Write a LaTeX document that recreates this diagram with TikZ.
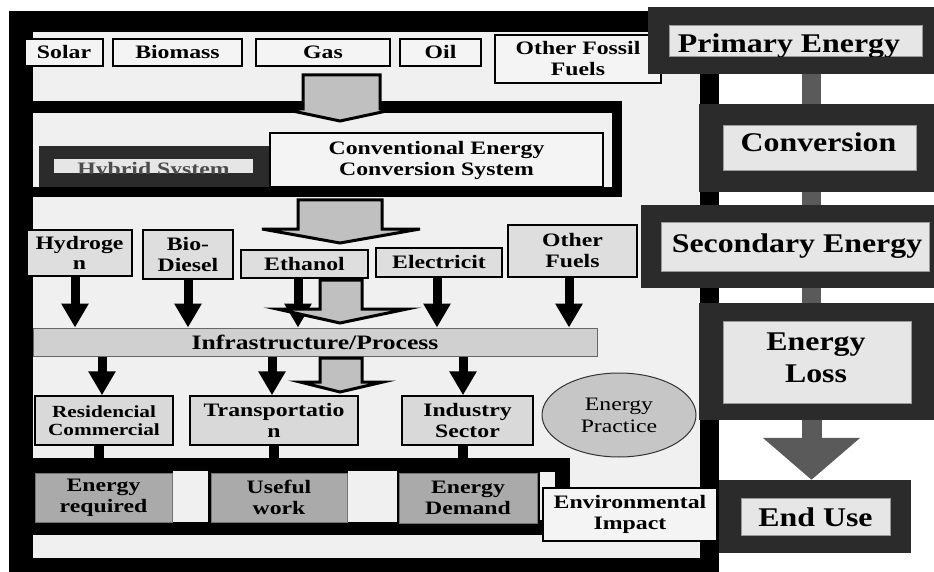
\documentclass[tikz,border=0pt]{standalone}
\usepackage{fontspec}
\setmainfont{Liberation Serif}
\newfontfamily\lfont[FakeStretch=1.25]{Liberation Serif}
\newfontfamily\rfont[FakeStretch=1.18]{Liberation Serif}
\usetikzlibrary{arrows.meta,shapes.geometric,calc}
\definecolor{panel}{RGB}{240,240,240}
\definecolor{darkf}{RGB}{43,43,43}
\definecolor{innerl}{RGB}{230,230,230}
\definecolor{connf}{RGB}{90,90,90}
\definecolor{srcf}{RGB}{244,244,244}
\definecolor{fuelf}{RGB}{222,222,222}
\definecolor{infraf}{RGB}{208,208,208}
\definecolor{sectf}{RGB}{217,217,217}
\definecolor{outf}{RGB}{170,170,170}
\definecolor{ellf}{RGB}{198,198,198}
\definecolor{arrf}{RGB}{192,192,192}
\begin{document}
\begin{tikzpicture}[x=1pt,y=-1pt,
  lbl/.style={font=\lfont\bfseries\fontsize{19}{21}\selectfont, align=center, inner sep=0pt, text=black},
  srcbox/.style={lbl, draw=black, line width=1.5pt, fill=srcf},
  fuelbox/.style={lbl, draw=black, line width=1.5pt, fill=fuelf},
  sectbox/.style={lbl, draw=black, line width=1.5pt, fill=sectf},
  outbox/.style={lbl, draw=black!55, line width=1pt, fill=outf},
  darkbox/.style={fill=darkf, inner sep=0pt},
  innerbox/.style={fill=innerl, draw=black!40, line width=0.6pt, inner sep=0pt},
  bigtxt/.style={font=\rfont\bfseries\fontsize{27}{32}\selectfont, align=center, inner sep=0pt, anchor=base},
  barrow/.style={line width=9pt, black, -{Triangle[length=24pt 0,width=26pt 0]}},
  grayconn/.style={line width=19pt, connf},
  blockarrow/.style={fill=arrf, draw=black, line width=3pt, line join=miter},
  blackconn/.style={line width=10pt, black}
]
\useasboundingbox (0,0) rectangle (934,572);
\clip (0,0) rectangle (934,572);
\fill[white] (0,0) rectangle (934,572);

% left panel frame
\fill[black] (9,11) rectangle (719,572);
\fill[panel] (33,32) rectangle (700,558);
% conversion frame
\fill[black] (33,101) rectangle (622,197);
\fill[panel] (33,113) rectangle (612,187);

% hybrid system
\node[darkbox, minimum width=231pt, minimum height=41pt] (hyb) at (154.5,166.5) {};
\node[fill=innerl, inner sep=0pt, minimum width=199pt, minimum height=14pt] (hybl) at (153.5,166) {};
\begin{scope}
  \clip (hybl.north west) rectangle (hybl.south east);
  \node[font=\lfont\bfseries\fontsize{19}{21}\selectfont, text=black!70, anchor=base, inner sep=0pt] (hybt) at (153.5,175.5) {Hybrid System};
\end{scope}

% conventional box
\node[srcbox, minimum width=333pt, minimum height=54pt, line width=2pt] (conv) at (436.5,160) {Conventional Energy\\Conversion System};

% sources
\node[srcbox, minimum width=78pt, minimum height=27pt] (solar) at (64,52.5) {Solar};
\node[srcbox, minimum width=129pt, minimum height=27pt] (bio) at (177.5,52.5) {Biomass};
\node[srcbox, minimum width=134pt, minimum height=27pt] (gas) at (323,52.5) {Gas};
\node[srcbox, minimum width=81pt, minimum height=27pt] (oil) at (440.5,52.5) {Oil};
\node[srcbox, minimum width=166pt, minimum height=48pt] (ofos) at (578,59) {Other Fossil\\Fuels};

% block arrows
\draw[blockarrow] (303,75) -- (380,75) -- (380,109) -- (396,109) -- (340,121) -- (283,109) -- (303,109) -- cycle;
\draw[blockarrow] (298,200) -- (382,200) -- (382,229) -- (420,229) -- (340,243) -- (262,229) -- (298,229) -- cycle;

% fuels
\node[fuelbox, minimum width=105pt, minimum height=46pt, font=\lfont\bfseries\fontsize{19}{20}\selectfont] (hyd) at (79.5,253) {Hydroge\\n};
\node[fuelbox, minimum width=90pt, minimum height=49pt] (bdie) at (188,254.5) {Bio-\\Diesel};
\node[fuelbox, minimum width=127pt, minimum height=28pt] (eth) at (304.5,264) {Ethanol};
\node[fuelbox, minimum width=126pt, minimum height=29pt] (elec) at (439,262.5) {Electricit};
\node[fuelbox, minimum width=129pt, minimum height=52pt] (ofuel) at (572.5,251) {Other\\Fuels};

% infrastructure
\node[lbl, fill=infraf, draw=black!60, line width=1pt, minimum width=564pt, minimum height=28pt, font=\lfont\bfseries\fontsize{20.5}{22}\selectfont] (infra) at (315,342) {Infrastructure/Process};

\draw[barrow] ([xshift=-4.5pt]hyd.south) -- ([xshift=-4.5pt]hyd.south |- infra.north);
\draw[barrow] (bdie.south) -- (bdie.south |- infra.north);
\draw[barrow] ([xshift=-6.5pt]eth.south) -- ([xshift=-6.5pt]eth.south |- infra.north);
\draw[barrow] ([xshift=-2pt]elec.south) -- ([xshift=-2pt]elec.south |- infra.north);
\draw[barrow] ([xshift=-3.5pt]ofuel.south) -- ([xshift=-3.5pt]ofuel.south |- infra.north);

\draw[blockarrow] (320,280) -- (362,280) -- (362,309) -- (407,309) -- (340,323) -- (277,309) -- (320,309) -- cycle;

% sectors
\node[sectbox, minimum width=138pt, minimum height=49pt, font=\lfont\bfseries\fontsize{17}{18.5}\selectfont] (res) at (104,420.5) {Residencial\\Commercial};
\node[sectbox, minimum width=168pt, minimum height=49pt] (trans) at (274,420.5) {Transportatio\\n};
\node[sectbox, minimum width=131pt, minimum height=49pt] (ind) at (467.5,420.5) {Industry\\Sector};
\node[lbl, ellipse, fill=ellf, draw=black!80, line width=1pt, minimum width=154pt, minimum height=84pt, font=\lfont\fontsize{19}{22}\selectfont] (prac) at (619,415) {Energy\\Practice};

\draw[barrow] ([xshift=-2pt]res.north |- infra.south) -- ([xshift=-2pt]res.north);
\draw[barrow] ([xshift=-2pt]trans.north |- infra.south) -- ([xshift=-2pt]trans.north);
\draw[barrow] ([xshift=-4.5pt]ind.north |- infra.south) -- ([xshift=-4.5pt]ind.north);

\draw[blockarrow] (320,358) -- (362,358) -- (362,382) -- (383,382) -- (340,392) -- (300,382) -- (320,382) -- cycle;

% output band
\node[fill=black, inner sep=0pt, minimum width=537pt, minimum height=77pt] (band) at (301.5,496.5) {};
\draw[blackconn] ([xshift=-5pt]res.south) -- ([xshift=-5pt]res.south |- band.north);
\draw[blackconn] (trans.south) -- (trans.south |- band.north);
\draw[blackconn] ([xshift=-4.5pt]ind.south) -- ([xshift=-4.5pt]ind.south |- band.north);
\fill[panel] (173,471) rectangle (208,522);
\fill[panel] (348,471) rectangle (397,522);
\fill[panel] (540,472) rectangle (555,520);
\node[outbox, minimum width=137pt, minimum height=49pt] (ereq) at (103.5,497.5) {Energy\\required};
\node[outbox, minimum width=136pt, minimum height=49pt] (uwork) at (279,497.5) {Useful\\work};
\node[outbox, minimum width=138pt, minimum height=50pt] (edem) at (468,498) {Energy\\Demand};
\node[srcbox, minimum width=174pt, minimum height=53pt] (env) at (630,514.5) {Environmental\\Impact};

% right column
\coordinate (rx) at (811.5,0);
\draw[grayconn] (rx |- 0,74) -- (rx |- 0,104);
\draw[grayconn] (rx |- 0,192) -- (rx |- 0,205);
\draw[grayconn] (rx |- 0,288) -- (rx |- 0,303);

\node[darkbox, minimum width=296pt, minimum height=67pt] (pe) at (796,40.5) {};
\node[innerbox, minimum width=253pt, minimum height=31pt] (pei) at (795.5,40.5) {};
\begin{scope}
  \clip (pei.north west) rectangle (pei.south east);
  \node[bigtxt] (pet) at (789,53) {Primary Energy};
\end{scope}

\node[darkbox, minimum width=245pt, minimum height=88pt] (cv) at (821.5,148) {};
\node[innerbox, minimum width=193pt, minimum height=45pt] (cvi) at (819.5,147.5) {};
\node[bigtxt] (cvt) at (818.5,152) {Conversion};

\node[darkbox, minimum width=303pt, minimum height=83pt] (se) at (792.5,246.5) {};
\node[innerbox, minimum width=268pt, minimum height=49pt] (sei) at (795,246.5) {};
\node[bigtxt] (set) at (797,252) {Secondary Energy};

\node[darkbox, minimum width=245pt, minimum height=117pt] (lo) at (821.5,361.5) {};
\node[innerbox, minimum width=188pt, minimum height=82pt] (loi) at (817,362) {};
\node[bigtxt] (lot) at (816,382) {Energy\\Loss};

\node[darkbox, minimum width=192pt, minimum height=73pt] (eu) at (815,516.5) {};
\node[innerbox, minimum width=149pt, minimum height=37pt] (eui) at (815.5,516.5) {};
\node[bigtxt] (eut) at (815.5,526) {End Use};

\draw[line width=20pt, connf, -{Triangle[length=42pt 0,width=95pt 0]}] (rx |- lo.south) -- (rx |- eu.north);
\end{tikzpicture}
\end{document}
